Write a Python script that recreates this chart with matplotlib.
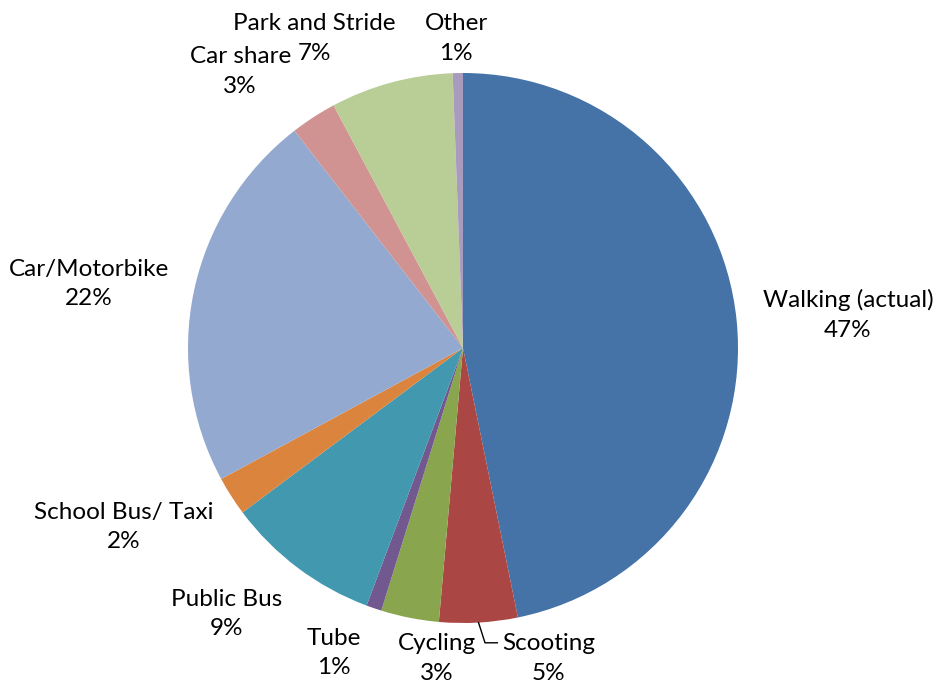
import numpy as np
import matplotlib.pyplot as plt

labels = ['Walking (actual)', 'Scooting', 'Cycling', 'Tube', 'Public Bus',
          'School Bus/ Taxi', 'Car/Motorbike', 'Car share', 'Park and Stride', 'Other']
values = [46.8, 4.6, 3.4, 0.9, 9.1, 2.3, 22.4, 2.7, 7.2, 0.6]
colors = ['#4572A7', '#AA4643', '#89A54E', '#71588F', '#4198AF',
          '#DB843D', '#93A9CF', '#D19392', '#B9CD96', '#A99BBD']
# label centres (data units, pie radius = 1)
label_pos = [(1.40, 0.12), (0.31, -1.13), (-0.095, -1.13), (-0.47, -1.11),
             (-0.86, -0.967), (-1.233, -0.651), (-1.36, 0.233), (-0.81, 1.005),
             (-0.54, 1.125), (-0.025, 1.125)]

plt.rcParams['font.family'] = ['Lato', 'DejaVu Sans']

fig = plt.figure(figsize=(9.38, 6.86), dpi=100)
ax = fig.add_axes([0, 0, 1, 1])
wedges, _ = ax.pie(values, colors=colors, startangle=90, counterclock=False,
                   radius=1.0, wedgeprops=dict(linewidth=0))

total = sum(values)
for lab, v, (x, y) in zip(labels, values, label_pos):
    ax.text(x, y, '%s\n%d%%' % (lab, round(v / total * 100)), ha='center', va='center',
            fontsize=17.5, linespacing=1.5, color='black')

# leader line for Scooting
w = wedges[1]
mid = np.deg2rad((w.theta1 + w.theta2) / 2)
x0, y0 = np.cos(mid) * 1.0, np.sin(mid) * 1.0
ax.plot([x0, 0.08, 0.125], [y0, -1.072, -1.072], color='black', lw=1)

ax.set_aspect('auto')
ax.set_xlim(-463 / 275, (938 - 463) / 275)
ax.set_ylim((348 - 686) / 275, 348 / 275)
ax.axis('off')
fig.savefig('out.png', dpi=100)
